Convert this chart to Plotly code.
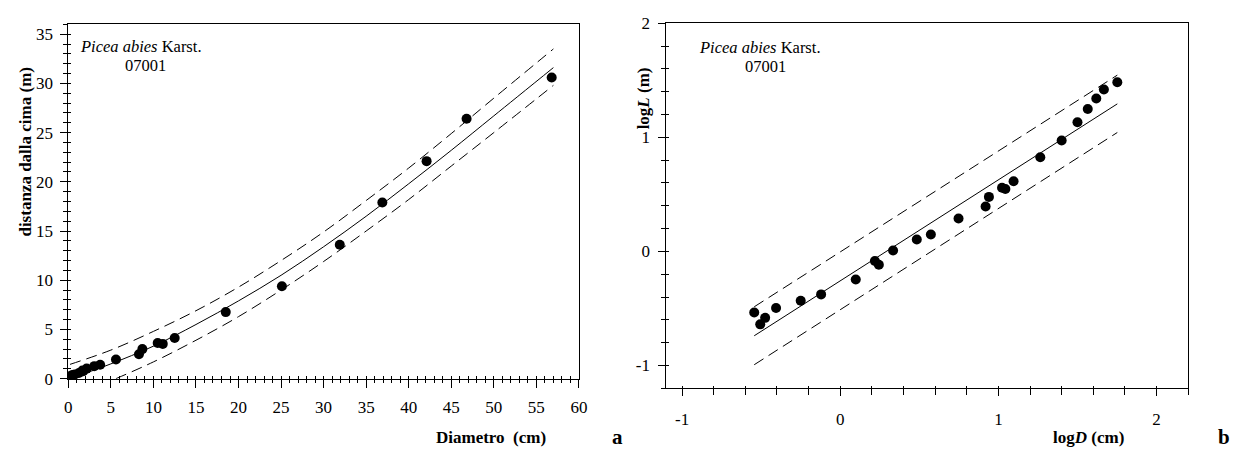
import plotly.graph_objects as go

# ---------------- data ----------------
# Panel a: diameter (cm) vs distance from the top (m)
diam_cm = [0.29, 0.31, 0.34, 0.39, 0.56, 0.76, 1.25, 1.66, 1.75, 2.16, 3.05, 3.74,
           5.6, 8.3, 8.7, 10.5, 11.1, 12.5, 18.5, 25.1, 31.9, 36.9, 42.1, 46.8, 56.8]
dist_m = [0.29, 0.23, 0.26, 0.32, 0.37, 0.42, 0.57, 0.82, 0.76, 1.02, 1.27, 1.41,
          1.94, 2.48, 3.0, 3.62, 3.53, 4.12, 6.76, 9.38, 13.6, 17.9, 22.1, 26.4, 30.6]

fit_d = [0.3, 2, 5, 10, 15, 20, 25, 30, 35, 40, 45, 50, 57]
fit_l = [0.05, 0.55, 1.5, 3.3, 5.5, 7.9, 10.5, 13.4, 16.5, 19.8, 23.2, 26.7, 31.6]
upper_d = [0.2, 5, 10, 15, 20, 25, 30, 35, 40, 45, 50, 57]
upper_l = [1.45, 2.9, 4.8, 6.9, 9.3, 12.0, 14.9, 18.1, 21.4, 24.9, 28.5, 33.5]
lower_d = [5.6, 10, 15, 20, 25, 30, 35, 40, 45, 50, 57]
lower_l = [0.0, 1.7, 3.9, 6.3, 9.0, 11.9, 15.0, 18.2, 21.6, 25.0, 29.8]

# Panel b: logD vs logL
log_d = [-0.544, -0.506, -0.475, -0.406, -0.25, -0.121, 0.098, 0.219, 0.244, 0.334,
         0.484, 0.573, 0.748, 0.919, 0.940, 1.023, 1.044, 1.096, 1.265, 1.40, 1.50,
         1.565, 1.619, 1.667, 1.752]
log_l = [-0.536, -0.640, -0.583, -0.497, -0.433, -0.377, -0.246, -0.084, -0.117, 0.008,
         0.104, 0.148, 0.288, 0.394, 0.478, 0.559, 0.548, 0.615, 0.825, 0.972, 1.132,
         1.249, 1.341, 1.42, 1.484]
reg_x = [-0.544, 1.752]
reg_y = [-0.74, 1.294]
reg_up = [-0.486, 1.546]
reg_lo = [-0.994, 1.043]

b_x_ticks = [-1, 0, 1, 2]
b_x_text = ["-1", "0", "1", "2"]
b_y_ticks = [-1, 0, 1, 2]
b_y_text = ["-1", "0", "1", "2"]

# ---------------- layout helpers ----------------
W, H = 1242, 456
FONT = "Liberation Serif, Times New Roman, serif"


def px(x):
    return x / W


def py(y):
    return 1 - y / H


DASH = "11px,6px"
fig = go.Figure()

# Panel a lines
fig.add_trace(go.Scatter(x=fit_d, y=fit_l, mode="lines", line=dict(color="black", width=1, shape="spline"),
                         xaxis="x", yaxis="y", showlegend=False, hoverinfo="skip"))
fig.add_trace(go.Scatter(x=upper_d, y=upper_l, mode="lines",
                         line=dict(color="black", width=1, dash=DASH, shape="spline"),
                         xaxis="x", yaxis="y", showlegend=False, hoverinfo="skip"))
fig.add_trace(go.Scatter(x=lower_d, y=lower_l, mode="lines",
                         line=dict(color="black", width=1, dash=DASH, shape="spline"),
                         xaxis="x", yaxis="y", showlegend=False, hoverinfo="skip"))
# Panel a points (on overlay axes so those axes are drawn)
fig.add_trace(go.Scatter(x=diam_cm, y=dist_m, mode="markers", marker=dict(color="black", size=10),
                         xaxis="x3", yaxis="y3", showlegend=False))

# Panel b lines
fig.add_trace(go.Scatter(x=reg_x, y=reg_y, mode="lines", line=dict(color="black", width=1),
                         xaxis="x2", yaxis="y2", showlegend=False, hoverinfo="skip"))
fig.add_trace(go.Scatter(x=reg_x, y=reg_up, mode="lines", line=dict(color="black", width=1, dash=DASH),
                         xaxis="x2", yaxis="y2", showlegend=False, hoverinfo="skip"))
fig.add_trace(go.Scatter(x=reg_x, y=reg_lo, mode="lines", line=dict(color="black", width=1, dash=DASH),
                         xaxis="x2", yaxis="y2", showlegend=False, hoverinfo="skip"))
fig.add_trace(go.Scatter(x=log_d, y=log_l, mode="markers", marker=dict(color="black", size=10),
                         xaxis="x4", yaxis="y4", showlegend=False))

dom_ax = [px(65), px(581)]
dom_ay = [py(385.7), py(16)]
dom_bx = [px(669.3), px(1196.7)]
dom_by = [py(395.7), py(15)]

tickfont = dict(family=FONT, size=17, color="black")
base = dict(showgrid=False, zeroline=False, linecolor="black", linewidth=1,
            tickcolor="black", tickfont=tickfont, fixedrange=True)
overlay = dict(showgrid=False, zeroline=False, showline=False, showticklabels=False,
               ticks="inside", tickcolor="black", fixedrange=True)

fig.update_layout(
    width=W, height=H,
    margin=dict(l=0, r=0, t=0, b=0),
    paper_bgcolor="white", plot_bgcolor="white",
    font=dict(family=FONT, color="black"),
    xaxis=dict(base, domain=dom_ax, anchor="y", range=[0, 60], tickmode="linear", tick0=0, dtick=5,
               ticks="outside", ticklen=8, mirror=True, ticklabelstandoff=5,
               minor=dict(tickmode="linear", tick0=0, dtick=1, ticks="outside", ticklen=3, tickcolor="black")),
    yaxis=dict(base, domain=dom_ay, anchor="x", range=[0, 36], tickmode="linear", tick0=0, dtick=5,
               ticks="outside", ticklen=7, mirror=True, ticklabelstandoff=4,
               minor=dict(tickmode="linear", tick0=0, dtick=1, ticks="outside", ticklen=4, tickcolor="black")),
    xaxis3=dict(overlay, overlaying="x", anchor="y3", range=[0, 60], tickmode="linear", tick0=0, dtick=1,
                ticklen=3),
    yaxis3=dict(overlay, overlaying="y", anchor="x3", side="left", range=[0, 36], tickmode="linear",
                tick0=0, dtick=1, ticklen=3),
    xaxis2=dict(base, domain=dom_bx, anchor="y2", range=[-1.1, 2.2], tickmode="array",
                tickvals=b_x_ticks, ticktext=b_x_text, ticks="outside", ticklen=7, mirror=True,
                ticklabelstandoff=8,
                minor=dict(tickmode="linear", tick0=0, dtick=0.2, ticks="outside", ticklen=6, tickcolor="black")),
    yaxis2=dict(base, domain=dom_by, anchor="x2", range=[-1.2, 2], tickmode="array",
                tickvals=b_y_ticks, ticktext=b_y_text, ticks="outside", ticklen=7, mirror=True,
                ticklabelstandoff=5,
                minor=dict(tickmode="linear", tick0=0, dtick=0.2, ticks="outside", ticklen=4, tickcolor="black")),
    xaxis4=dict(overlay, overlaying="x2", anchor="y4", range=[-1.1, 2.2], tickmode="linear", tick0=0,
                dtick=0.2, ticklen=2),
    yaxis4=dict(overlay, overlaying="y2", anchor="x4", side="left", range=[-1.2, 2], tickmode="linear",
                tick0=0, dtick=0.2, ticklen=3),
)

ann_font = dict(family=FONT, size=16.5, color="black")
title_font = dict(family=FONT, size=17, color="black")
annotations = [
    dict(x=px(75), y=py(39), text="<i>Picea abies</i> Karst.", xanchor="left", yanchor="middle", font=ann_font),
    dict(x=px(143.5), y=py(59), text="07001", xanchor="center", yanchor="middle", font=ann_font),
    dict(x=px(700), y=py(40), text="<i>Picea abies</i> Karst.", xanchor="left", yanchor="middle", font=ann_font),
    dict(x=px(770), y=py(60), text="07001", xanchor="center", yanchor="middle", font=ann_font),
    dict(x=px(22), y=py(149), text="<b>distanza dalla cima (m)</b>", textangle=-90,
         xanchor="center", yanchor="middle", font=dict(family=FONT, size=17, color="black")),
    dict(x=px(492), y=py(447), text="<b>Diametro  (cm)</b>", xanchor="center", yanchor="middle",
         font=title_font),
    dict(x=px(620), y=py(447), text="<b>a</b>", xanchor="center", yanchor="middle",
         font=dict(family=FONT, size=21, color="black")),
    dict(x=px(646), y=py(93), text="<b>log<i>L</i> (m)</b>", textangle=-90,
         xanchor="center", yanchor="middle", font=title_font),
    dict(x=px(1096), y=py(447), text="<b>log<i>D</i> (cm)</b>", xanchor="center", yanchor="middle",
         font=title_font),
    dict(x=px(1233), y=py(447), text="<b>b</b>", xanchor="center", yanchor="middle",
         font=dict(family=FONT, size=21, color="black")),
]
for a in annotations:
    a.update(xref="paper", yref="paper", showarrow=False)
fig.update_layout(annotations=annotations)

fig.write_html("out.html")
